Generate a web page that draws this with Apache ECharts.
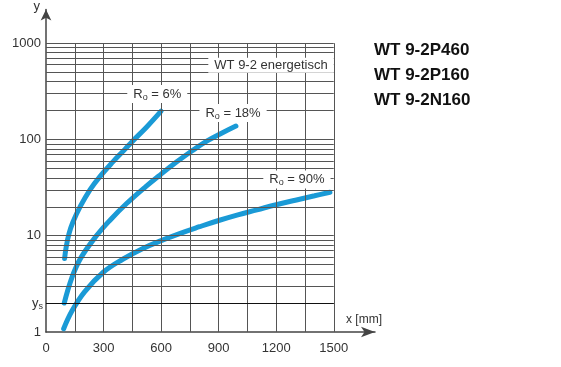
<!DOCTYPE html>
<html>
<head>
<meta charset="utf-8">
<script src="https://cdn.jsdelivr.net/npm/echarts@6/dist/echarts.min.js"></script>
<style>
html, body { margin: 0; padding: 0; background: #fff; }
#chart { width: 561px; height: 367px; }
</style>
</head>
<body>
<div id="chart"></div>
<script>
// curves: [x in mm, y]
var curveR6 = [[97, 5.8], [105, 7.6], [120, 10.5], [140, 13.8], [180, 20.4], [230, 30.2], [283, 41.7], [350, 58.9], [410, 78.5], [450, 95.5], [525, 135], [600, 197]];
var curveR18 = [[95, 2], [135, 3.67], [180, 5.82], [265, 10.1], [335, 14.6], [420, 21.6], [520, 32.4], [600, 43.7], [680, 58.2], [760, 75.9], [840, 96.6], [920, 117.5], [990, 138]];
var curveR90 = [[92, 1.08], [135, 1.65], [200, 2.6], [300, 4.2], [400, 5.7], [500, 7.3], [600, 8.9], [700, 10.6], [800, 12.4], [900, 14.4], [1000, 16.5], [1100, 18.6], [1200, 21], [1300, 23.4], [1400, 26], [1480, 28.3]];

var xLabels = [0, 300, 600, 900, 1200, 1500];
var yLabels = [1, 10, 100, 1000];
var xGrid = [150, 300, 450, 600, 750, 900, 1050, 1200, 1350, 1500];
var yGrid = [2, 3, 4, 5, 6, 7, 8, 9, 10, 20, 30, 40, 50, 60, 70, 80, 90, 100, 200, 300, 400, 500, 600, 700, 800, 900, 1000];
var ysValue = 2;
var products = ['WT 9-2P460', 'WT 9-2P160', 'WT 9-2N160'];

// label anchors (data coords)
var curveLabels = [
    { text: '{r|R}{s|o}{r| = 6%}', coord: [580, 296] },
    { text: '{r|R}{s|o}{r| = 18%}', coord: [975, 188] },
    { text: '{r|R}{s|o}{r| = 90%}', coord: [1308, 38.5] },
    { text: '{r|WT 9-2 energetisch}', coord: [1173, 589] }
];

var FONT = 'Liberation Sans, Arial, sans-serif';
var BLUE = '#1a9ad6';
var GRID_COLOR = '#555';

var chartDom = document.getElementById('chart');
var myChart = echarts.init(chartDom);

var gridLines = [];
for (var i = 0; i < xGrid.length; i++) {
    gridLines.push([{ coord: [xGrid[i], 1] }, { coord: [xGrid[i], 1000] }]);
}
for (var j = 0; j < yGrid.length; j++) {
    gridLines.push([{ coord: [0, yGrid[j]] }, { coord: [1500, yGrid[j]] }]);
}

var richText = {
    r: { fontFamily: FONT, fontSize: 13, color: '#333' },
    s: { fontFamily: FONT, fontSize: 9, color: '#333', padding: [7, 0, 0, 0] }
};

function curveSeries(data) {
    return {
        type: 'line',
        data: data,
        smooth: 0.4,
        showSymbol: false,
        silent: true,
        z: 3,
        lineStyle: { color: BLUE, width: 5, cap: 'round' }
    };
}

var option = {
    animation: false,
    title: {
        text: products.join('\n'),
        left: 369,
        top: 33,
        textStyle: { fontFamily: FONT, fontSize: 17, fontWeight: 'bold', color: '#111', lineHeight: 25 }
    },
    grid: { left: 46, right: 186, top: 7, bottom: 35, containLabel: false },
    xAxis: {
        type: 'value',
        min: 0,
        max: 1715,
        interval: 150,
        name: 'x [mm]',
        nameLocation: 'end',
        nameGap: 7,
        nameTextStyle: { fontFamily: FONT, fontSize: 12, color: '#333', align: 'right', verticalAlign: 'bottom', padding: [0, 0, 6, 0] },
        axisLine: { lineStyle: { color: '#444', width: 1.5 }, symbol: ['none', 'arrow'], symbolSize: [8, 14] },
        axisTick: { show: false },
        splitLine: { show: false },
        axisLabel: {
            margin: 10,
            fontFamily: FONT,
            fontSize: 13,
            color: '#333',
            formatter: function (v) {
                return xLabels.indexOf(v) >= 0 ? String(v) : '';
            }
        }
    },
    yAxis: {
        type: 'log',
        logBase: 10,
        min: 1,
        max: 2240,
        name: 'y',
        nameLocation: 'end',
        nameGap: 3,
        nameTextStyle: { fontFamily: FONT, fontSize: 13, color: '#333', align: 'right', verticalAlign: 'middle', padding: [0, 6, 0, 0] },
        axisLine: { lineStyle: { color: '#444', width: 1.5 }, symbol: ['none', 'arrow'], symbolSize: [8, 11] },
        axisTick: { show: false },
        splitLine: { show: false },
        axisLabel: {
            margin: 5,
            fontFamily: FONT,
            fontSize: 13,
            color: '#333',
            formatter: function (v) {
                for (var k = 0; k < yLabels.length; k++) {
                    if (Math.abs(v - yLabels[k]) < 1e-6 * yLabels[k]) return String(yLabels[k]);
                }
                return '';
            }
        }
    },
    series: [
        {
            // grid lines + y_s mark
            type: 'line',
            data: [[0, 1]],
            showSymbol: false,
            silent: true,
            z: 1,
            lineStyle: { width: 0 },
            markLine: {
                silent: true,
                symbol: ['none', 'none'],
                animation: false,
                lineStyle: { color: GRID_COLOR, width: 1, type: 'solid' },
                label: { show: false },
                data: gridLines.concat([[
                    {
                        coord: [0, ysValue],
                        label: {
                            show: true,
                            position: 'start',
                            distance: 3,
                            formatter: '{y|y}{sub|s}',
                            rich: {
                                y: { fontFamily: FONT, fontSize: 13, color: '#333' },
                                sub: { fontFamily: FONT, fontSize: 9, color: '#333', padding: [7, 0, 0, 0] }
                            }
                        },
                        lineStyle: { color: '#111', width: 1 }
                    },
                    { coord: [1500, ysValue] }
                ]])
            }
        },
        curveSeries(curveR6),
        curveSeries(curveR18),
        curveSeries(curveR90),
        {
            // text boxes on the grid
            type: 'line',
            data: [[0, 1]],
            showSymbol: false,
            silent: true,
            z: 4,
            lineStyle: { width: 0 },
            markPoint: {
                silent: true,
                symbol: 'rect',
                symbolSize: 0,
                data: curveLabels.map(function (d) {
                    return {
                        coord: d.coord,
                        label: {
                            show: true,
                            position: 'inside',
                            formatter: d.text,
                            rich: richText,
                            backgroundColor: '#fff',
                            padding: [1, 6, 1, 6]
                        }
                    };
                })
            }
        }
    ]
};

option && myChart.setOption(option);
</script>
</body>
</html>
